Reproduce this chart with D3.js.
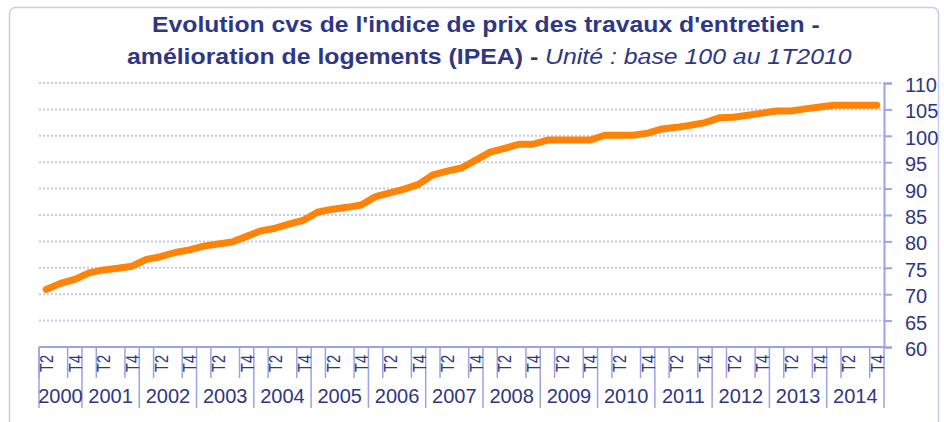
<!DOCTYPE html>
<html>
<head>
<meta charset="utf-8">
<script src="https://cdn.jsdelivr.net/npm/d3@7"></script>
<style>
  body { margin: 0; background: #fff; }
  text { font-family: "Liberation Sans", Arial, sans-serif; fill: #2e3785; }
</style>
</head>
<body>
<div id="chart"></div>
<script>
// data : indice IPEA cvs, du T2 2000 au T4 2014
var years = [2000, 2001, 2002, 2003, 2004, 2005, 2006, 2007, 2008, 2009, 2010, 2011, 2012, 2013, 2014];
var quarterNames = ["T1", "T2", "T3", "T4"];
var firstQuarter = 1; // la serie commence au T2 2000
var yTicks = [60, 65, 70, 75, 80, 85, 90, 95, 100, 105, 110];
var ipea = [
  70.9, 72.05, 72.8,
  74.05, 74.6, 74.9, 75.3,
  76.6, 77.1, 77.9, 78.4,
  79.1, 79.5, 79.9, 80.95,
  82.0, 82.5, 83.3, 84.05,
  85.6, 86.1, 86.45, 86.9,
  88.5, 89.2, 89.9, 90.8,
  92.6, 93.3, 93.9, 95.4,
  96.9, 97.6, 98.4, 98.4,
  99.2, 99.2, 99.2, 99.2,
  100.1, 100.1, 100.1, 100.5,
  101.3, 101.6, 102.0, 102.5,
  103.4, 103.5, 103.9, 104.3,
  104.7, 104.7, 105.1, 105.45,
  105.8, 105.8, 105.8, 105.8
];

// categories "2000T2", "2000T3", ...
var categories = [];
years.forEach(function(yr, k) {
  quarterNames.forEach(function(q, j) {
    if (k == 0 && j < firstQuarter) return;
    categories.push({ key: yr + q, year: yr, q: q });
  });
});
var data = categories.map(function(c, i) { return { key: c.key, year: c.year, q: c.q, value: ipea[i] }; });

var W = 944, H = 422;
var axisColor = "#9ba3e3", gridColor = "#c3c8f0";

var svg = d3.select("#chart").append("svg")
  .attr("width", W).attr("height", H);

// cadre
svg.append("rect")
  .attr("x", 9.5).attr("y", 7.5)
  .attr("width", 929).attr("height", 440)
  .attr("rx", 6)
  .attr("fill", "none")
  .attr("stroke", "#c8ccf0")
  .attr("stroke-width", 1.5);

var x = d3.scaleBand()
  .domain(data.map(d => d.key))
  .range([39, 884])
  .padding(0);

var y = d3.scaleLinear()
  .domain([60, 110])
  .range([347, 83]);

// grille pointillee
svg.append("g").selectAll("line")
  .data(yTicks.filter(v => v > 60))
  .enter().append("line")
    .attr("x1", 39).attr("x2", 884)
    .attr("y1", d => y(d)).attr("y2", d => y(d))
    .attr("stroke", gridColor)
    .attr("stroke-width", 2)
    .attr("stroke-dasharray", "2,2");

// axe Y a droite
var yAxis = svg.append("g")
  .attr("transform", "translate(884,0)")
  .call(d3.axisRight(y).tickValues(yTicks).tickSize(8).tickPadding(13));
yAxis.select(".domain").attr("stroke", axisColor).attr("stroke-width", 2);
yAxis.selectAll(".tick line").attr("stroke", axisColor).attr("stroke-width", 2);
yAxis.selectAll(".tick text")
  .attr("font-size", "20px")
  .attr("font-family", "Liberation Sans, Arial, sans-serif")
  .attr("fill", "#2e3785")
  .attr("dy", "0.42em");

// axe X : ligne de base
svg.append("line")
  .attr("x1", 39).attr("x2", 884)
  .attr("y1", 347).attr("y2", 347)
  .attr("stroke", axisColor).attr("stroke-width", 2);

// petits traits tous les 2 trimestres
var shortTicks = data.filter((d, i) => i % 2 == 0);
svg.append("g").selectAll("line")
  .data(shortTicks)
  .enter().append("line")
    .attr("x1", d => x(d.key)).attr("x2", d => x(d.key))
    .attr("y1", 347).attr("y2", 378)
    .attr("stroke", axisColor).attr("stroke-width", 1.5);

// grands traits entre les annees
var yearStart = years.map(function(yr) { return data.find(d => d.year == yr); });
var yearEnd = years.map(function(yr) { return data.filter(d => d.year == yr).pop(); });
var bounds = yearStart.map(d => x(d.key)).concat([x(yearEnd[yearEnd.length - 1].key) + x.bandwidth()]);
svg.append("g").selectAll("line")
  .data(bounds)
  .enter().append("line")
    .attr("x1", d => d).attr("x2", d => d)
    .attr("y1", 347).attr("y2", 408)
    .attr("stroke", axisColor).attr("stroke-width", 1.5);

// libelles T2 / T4
svg.append("g").selectAll("text")
  .data(shortTicks)
  .enter().append("text")
    .attr("transform", d => "translate(" + (x(d.key) + x.bandwidth() / 2 + 1) + ",355) rotate(-90)")
    .attr("text-anchor", "end")
    .attr("dominant-baseline", "central")
    .attr("font-size", "18px")
    .attr("textLength", 17)
    .attr("lengthAdjust", "spacingAndGlyphs")
    .text(d => d.q);

// libelles des annees
svg.append("g").selectAll("text")
  .data(years)
  .enter().append("text")
    .attr("x", (d, k) => (bounds[k] + bounds[k + 1]) / 2)
    .attr("y", 403)
    .attr("text-anchor", "middle")
    .attr("font-size", "20px")
    .text(d => d);

// courbe
var line = d3.line()
  .x(d => x(d.key) + x.bandwidth() / 2)
  .y(d => y(d.value));

svg.append("path")
  .datum(data)
  .attr("d", line)
  .attr("fill", "none")
  .attr("stroke", "#ff8306")
  .attr("stroke-width", 7)
  .attr("stroke-linejoin", "round")
  .attr("stroke-linecap", "round");

// titre
var t1 = svg.append("text")
  .attr("x", 0).attr("y", 0)
  .attr("font-size", "22px")
  .attr("font-weight", "bold")
  .text("Evolution cvs de l'indice de prix des travaux d'entretien -");

var t2 = svg.append("text")
  .attr("x", 0).attr("y", 0)
  .attr("font-size", "22px");
t2.append("tspan").attr("font-weight", "bold").text("amélioration de logements (IPEA) - ");
t2.append("tspan").attr("font-style", "italic").text("Unité : base 100 au 1T2010");

function fitTitle(sel, left, right, base) {
  var w = sel.node().getComputedTextLength();
  var s = (right - left) / w;
  sel.attr("transform", "translate(" + left + "," + base + ") scale(" + s + ",1)");
}
fitTitle(t1, 152, 820, 32);
fitTitle(t2, 127, 852, 64);
</script>
</body>
</html>
